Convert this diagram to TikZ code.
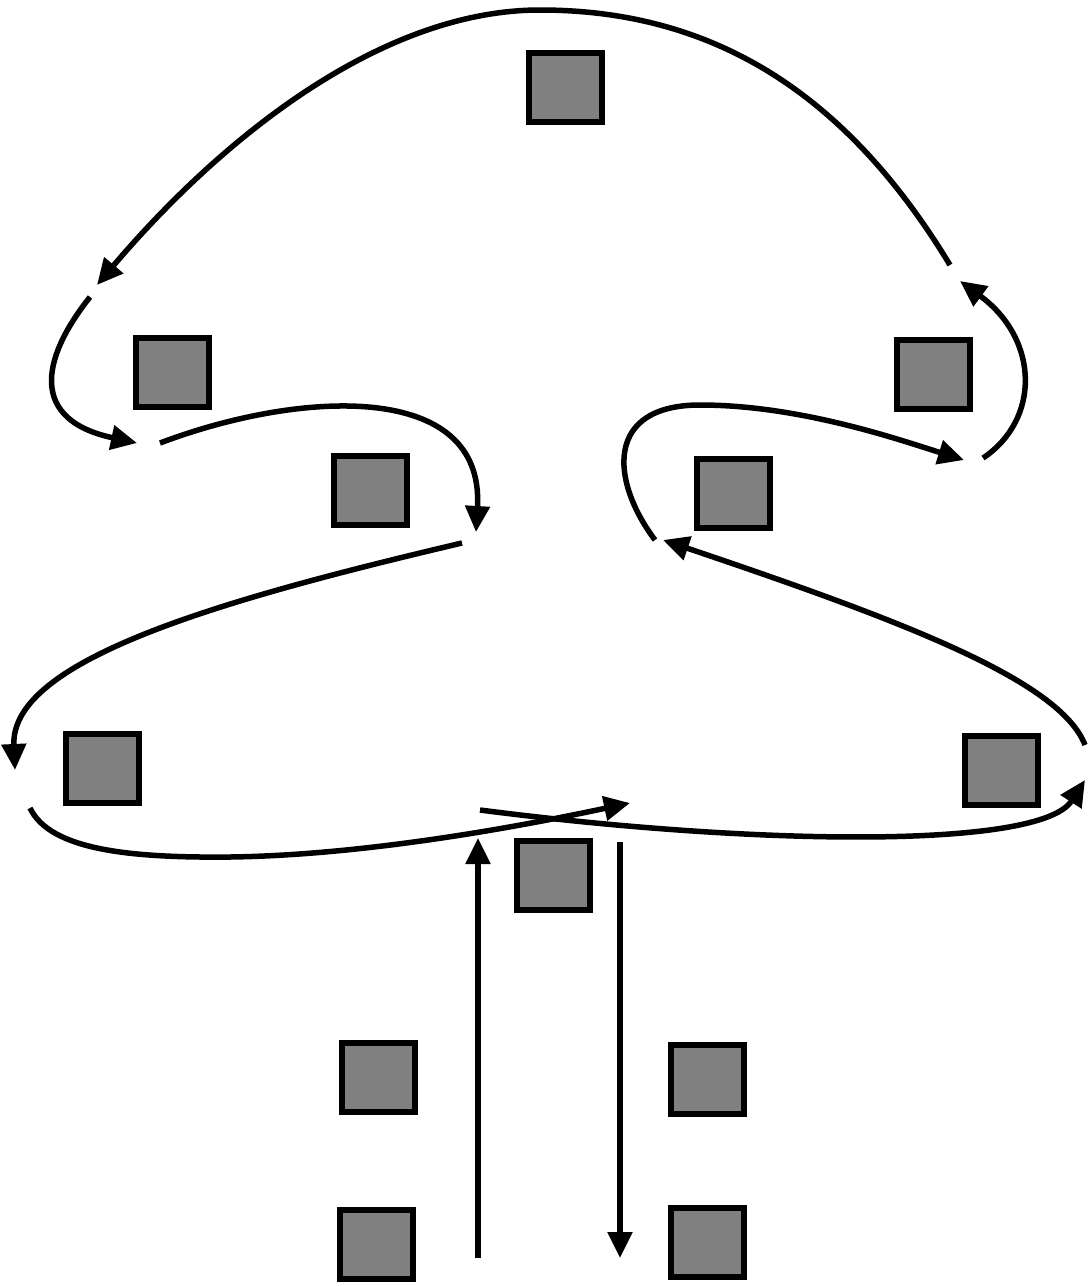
\documentclass[tikz,border=0pt]{standalone}
\usetikzlibrary{arrows.meta}
\begin{document}
\begin{tikzpicture}[x=1pt,y=-1pt,
  sq/.style={draw=black,fill=black!50,line width=6pt,minimum width=73pt,minimum height=69pt,inner sep=0pt},
  arr/.style={line width=5.5pt,-{Triangle[length=26pt,width=24pt]}},
  ln/.style={line width=5.5pt}]
\useasboundingbox (0,0) rectangle (1088,1286);
% squares
\node[sq] (s1) at (565,87) {};
\node[sq] (s2) at (172,372) {};
\node[sq] (s3) at (933,374) {};
\node[sq] (s4) at (370,490) {};
\node[sq] (s5) at (733,493) {};
\node[sq] (s6) at (102,768) {};
\node[sq] (s7) at (1001,770) {};
\node[sq] (s8) at (553,875) {};
\node[sq] (s9) at (378,1077) {};
\node[sq] (s10) at (707,1079) {};
\node[sq] (s11) at (376,1244) {};
\node[sq] (s12) at (707,1242) {};
% endpoints
\coordinate (a0) at (950,265); \coordinate (a1) at (97,285);
\coordinate (b0) at (90,297);  \coordinate (b1) at (137,443);
\coordinate (c0) at (160,443); \coordinate (c1) at (476,532);
\coordinate (d0) at (462,543); \coordinate (d1) at (15,770);
\coordinate (e0) at (30,808);  \coordinate (e1) at (630,803);
\coordinate (f0) at (480,810); \coordinate (f1) at (1085,780);
\coordinate (g0) at (1085,745); \coordinate (g1) at (663,540);
\coordinate (h0) at (655,540); \coordinate (h1) at (964,460);
\coordinate (i0) at (983,458); \coordinate (i1) at (960,281);
\coordinate (j0) at (478,1258); \coordinate (j1) at (478,838);
\coordinate (k0) at (620,842); \coordinate (k1) at (620,1258);
% connectors
\draw[arr] (a0) .. controls (850,100) and (720,10) .. (540,10) .. controls (380,10) and (220,140) .. (a1);
\draw[arr] (b0) .. controls (40,360) and (30,420) .. (b1);
\draw[arr] (c0) .. controls (300,390) and (485,380) .. (c1);
\draw[arr] (d0) .. controls (220,600) and (10,660) .. (d1);
\draw[arr] (e0) .. controls (50,850) and (130,858) .. (230,857) .. controls (380,855) and (550,820) .. (e1);
\draw[arr] (f0) .. controls (750,845) and (1040,850) .. (f1);
\draw[arr] (g0) .. controls (1060,680) and (900,620) .. (g1);
\draw[arr] (h0) .. controls (610,480) and (605,405) .. (700,405) .. controls (800,405) and (900,440) .. (h1);
\draw[arr] (i0) .. controls (1040,420) and (1040,340) .. (i1);
\draw[arr] (j0) -- (j1);
\draw[arr] (k0) -- (k1);
\end{tikzpicture}
\end{document}
